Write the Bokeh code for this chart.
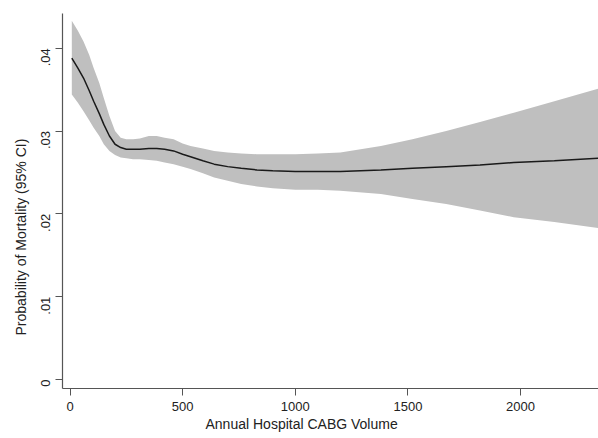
import math
from bokeh.plotting import figure
from bokeh.models import Range1d, FixedTicker, CustomJSTickFormatter, Title
from bokeh.embed import file_html
from bokeh.resources import INLINE

volume = [8, 35, 60, 85, 105, 130, 150, 175, 200, 225, 250, 280, 310, 350, 385, 420, 460, 500,
          535, 590, 640, 700, 760, 830, 900, 1000, 1100, 1200, 1380, 1520, 1670, 1820, 1970, 2150, 2345]
mortality = [.0388, .0376, .0364, .0349, .0336, .0321, .0308, .0294, .0284, .0280, .0278, .0278, .0278,
             .0279, .0279, .0278, .0276, .0272, .0269, .0264, .0260, .0257, .0255, .0253, .0252, .0251,
             .0251, .0251, .0253, .0255, .0257, .0259, .0262, .0264, .0267]
ci_upper = [.0433, .0421, .0408, .0392, .0376, .0358, .0340, .0318, .0300, .0292, .0290, .0290, .0291,
            .0294, .0294, .0292, .0290, .0285, .0282, .0279, .0276, .0274, .0273, .0272, .0272, .0272,
            .0273, .0274, .0282, .0290, .0300, .0311, .0322, .0336, .0351]
ci_lower = [.0344, .0334, .0324, .0313, .0304, .0294, .0284, .0276, .0271, .0268, .0267, .0266, .0266,
            .0265, .0264, .0262, .0260, .0257, .0254, .0249, .0244, .0240, .0236, .0233, .0231, .0229,
            .0229, .0228, .0224, .0218, .0212, .0204, .0196, .0190, .0183]
x_ticks = [0, 500, 1000, 1500, 2000]
y_ticks = [0, 0.01, 0.02, 0.03, 0.04]
x_title = "Annual Hospital CABG Volume"
y_title = "Probability of Mortality (95% CI)"

p = figure(frame_width=536, frame_height=375, output_backend="svg", toolbar_location=None,
           x_range=Range1d(-33.3, 2346), y_range=Range1d(-0.00109, 0.04419),
           min_border_left=62, min_border_right=0, min_border_top=13, min_border_bottom=50)
p.outline_line_color = None
p.grid.visible = False
p.background_fill_color = "white"

p.varea(x=volume, y1=ci_lower, y2=ci_upper, fill_color="#bfbfbf", fill_alpha=1.0)
p.line(x=volume, y=mortality, line_color="#1a1a1a", line_width=1.5)

font = "Liberation Sans"
for ax in (p.xaxis[0], p.yaxis[0]):
    ax.axis_line_color = "#555555"
    ax.axis_line_width = 1.2
    ax.major_tick_line_color = "#555555"
    ax.major_tick_out = 7
    ax.major_tick_in = 0
    ax.minor_tick_line_color = None
    ax.major_label_text_font = font
    ax.major_label_text_font_size = "13px"
    ax.major_label_text_color = "#222222"

p.xaxis.ticker = FixedTicker(ticks=x_ticks)
p.yaxis.ticker = FixedTicker(ticks=y_ticks)
p.yaxis.formatter = CustomJSTickFormatter(code="""
  if (Math.abs(tick) < 1e-9) return "0";
  return tick.toFixed(2).replace(/^0/, "");
""")
p.yaxis.major_label_orientation = math.pi / 2
p.xaxis.major_label_standoff = 6
p.yaxis.major_label_standoff = 10

p.add_layout(Title(text=x_title, align="left", offset=143, standoff=0,
                   text_font=font, text_font_size="14px", text_font_style="normal",
                   text_color="#222222"), "below")
p.add_layout(Title(text=y_title, align="left", offset=53, standoff=9,
                   text_font=font, text_font_size="14px", text_font_style="normal",
                   text_color="#222222"), "left")

open("out.html", "w").write(file_html(p, INLINE))
